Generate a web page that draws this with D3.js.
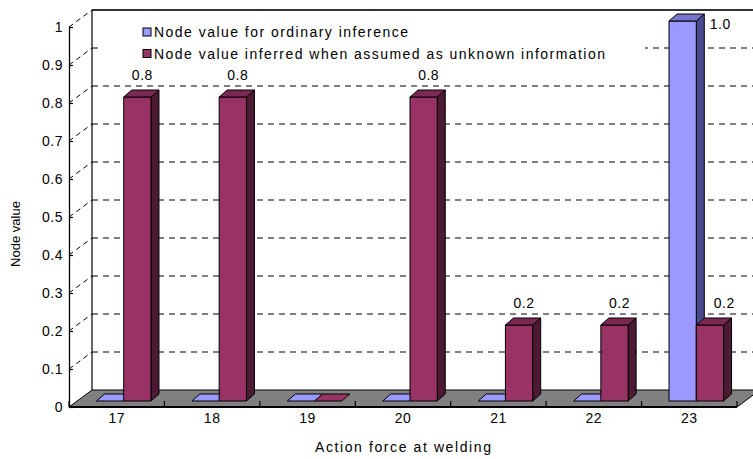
<!DOCTYPE html>
<html>
<head>
<meta charset="utf-8">
<script src="https://cdn.jsdelivr.net/npm/d3@7"></script>
<style>
  html, body { margin: 0; padding: 0; background: #fff; }
  svg { display: block; }
  text { font-family: "Liberation Sans", Arial, sans-serif; fill: #000; }
</style>
</head>
<body>
<svg id="chart" width="753" height="459"></svg>
<script>
// ---- data ----
const categories = ["17", "18", "19", "20", "21", "22", "23"];
const ordinaryValues = [0, 0, 0, 0, 0, 0, 1.0];
const unknownValues = [0.8, 0.8, 0, 0.8, 0.2, 0.2, 0.2];
const seriesNames = [
  "Node value for ordinary inference",
  "Node value inferred when assumed as unknown information"
];
const yTickValues = [0, 0.1, 0.2, 0.3, 0.4, 0.5, 0.6, 0.7, 0.8, 0.9, 1];
const xTitle = "Action force at welding";
const yTitle = "Node value";

// ---- layout ----
const W = 753, H = 459;
const floorL = 69, floorR = 737, yZero = 407, yOne = 27;
const DX = 23, DY = 17;          // depth of the walls / floor
const barOffX = 7, barOffY = 6;  // bars sit a little back on the floor
const barDX = 8, barDY = 7;      // bar depth

const frontColors = ["#9999ff", "#993366"];
const topColors   = ["#7575cc", "#7a2952"];
const sideColors  = ["#4a4a90", "#4c1a33"];

const svg = d3.select("#chart");

const y = d3.scaleLinear().domain([0, 1]).range([yZero, yOne]);
const x0 = d3.scaleBand().domain(categories).range([floorL, floorR]).padding(0);
const x1 = d3.scaleBand().domain([0, 1]).range([0, x0.bandwidth()])
  .paddingInner(0).paddingOuter(0.75);

const series = [ordinaryValues, unknownValues];
const fmt = d3.format(".1f");

// ---- back wall gridlines ----
const back = svg.append("g");
yTickValues.filter(t => t > 0 && t < 1).forEach(t => {
  back.append("line")
    .attr("x1", floorL + DX).attr("x2", floorR + DX)
    .attr("y1", y(t) - DY).attr("y2", y(t) - DY)
    .attr("stroke", "#000").attr("stroke-width", 1.2)
    .attr("stroke-dasharray", "6,5");
});
// top edge of the back wall
back.append("line")
  .attr("x1", floorL + DX).attr("x2", floorR + DX + 10)
  .attr("y1", y(1) - DY).attr("y2", y(1) - DY)
  .attr("stroke", "#333").attr("stroke-width", 2);
// back wall left edge
back.append("line")
  .attr("x1", floorL + DX).attr("x2", floorL + DX)
  .attr("y1", y(1) - DY).attr("y2", y(0) - DY)
  .attr("stroke", "#000").attr("stroke-width", 1.2);

// side wall diagonals
yTickValues.filter(t => t > 0).forEach(t => {
  back.append("line")
    .attr("x1", floorL).attr("y1", y(t))
    .attr("x2", floorL + DX).attr("y2", y(t) - DY)
    .attr("stroke", "#000").attr("stroke-width", 1)
    .attr("stroke-dasharray", "5,4");
});

// ---- legend ----
const legend = svg.append("g");
legend.append("rect")
  .attr("x", 100).attr("y", 21).attr("width", 545).attr("height", 42)
  .attr("fill", "#fff");
const legendLens = [254, 451];
seriesNames.forEach((name, i) => {
  const cy = 32 + i * 21.5;
  legend.append("rect")
    .attr("x", 143).attr("y", cy - 4).attr("width", 8).attr("height", 8)
    .attr("fill", frontColors[i]).attr("stroke", "#000").attr("stroke-width", 1);
  legend.append("text")
    .attr("x", 154).attr("y", cy + 5)
    .attr("font-size", 14)
    .attr("textLength", legendLens[i]).attr("lengthAdjust", "spacing")
    .text(name);
});

// ---- floor ----
svg.append("path")
  .attr("d", d3.line()([
    [floorL, yZero], [floorR, yZero],
    [floorR + DX, yZero - DY], [floorL + DX, yZero - DY]
  ]) + "Z")
  .attr("fill", "#808080").attr("stroke", "#000").attr("stroke-width", 1);
svg.append("line")
  .attr("x1", floorL).attr("x2", floorR)
  .attr("y1", yZero).attr("y2", yZero)
  .attr("stroke", "#000").attr("stroke-width", 1.8);

// category boundary ticks on the front floor edge
d3.range(categories.length + 1).forEach(i => {
  const xx = floorL + i * x0.step();
  svg.append("line")
    .attr("x1", xx).attr("x2", xx)
    .attr("y1", yZero).attr("y2", yZero - 6)
    .attr("stroke", "#000").attr("stroke-width", 1.2);
});

// ---- bars ----
const bars = [];
categories.forEach((c, ci) => {
  series.forEach((vals, si) => {
    const v = vals[ci];
    const bx = x0(c) + x1(si) + barOffX;
    const bw = x1.bandwidth();
    const yb = yZero - barOffY;
    const yt = y(v) - barOffY;
    bars.push({ c, ci, si, v, bx, bw, yb, yt });
  });
});

const gBars = svg.append("g");
bars.forEach(b => {
  const { bx, bw, yb, yt, si } = b;
  const g = gBars.append("g").attr("stroke", "#000").attr("stroke-width", 1)
    .attr("stroke-linejoin", "round");
  if (b.v > 0) {
    g.append("path")
      .attr("d", d3.line()([[bx + bw, yt], [bx + bw + barDX, yt - barDY],
        [bx + bw + barDX, yb - barDY], [bx + bw, yb]]) + "Z")
      .attr("fill", sideColors[si]);
    g.append("rect")
      .attr("x", bx).attr("y", yt).attr("width", bw).attr("height", yb - yt)
      .attr("fill", frontColors[si]);
  }
  g.append("path")
    .attr("d", d3.line()([[bx, yt], [bx + barDX, yt - barDY],
      [bx + bw + barDX, yt - barDY], [bx + bw, yt]]) + "Z")
    .attr("fill", b.v > 0 ? topColors[si] : frontColors[si]);
});

// ---- value labels ----
const plotTop = y(1) - DY;
const halfLabel = 11;
bars.filter(b => b.v > 0).forEach(b => {
  let cx = b.bx + b.bw / 2 + 5;
  let cy = b.yt - barDY - 15;
  if (cy - 7 < plotTop) {
    // no room above: sit beside the bar top
    cx = b.bx + b.bw + barDX + 16;
    cy = b.yt - barDY + 10;
  }
  // keep clear of a taller neighbour on the left
  const left = bars.find(o => o.ci === b.ci && o.si === b.si - 1 && o.v > b.v);
  if (left) {
    const minCx = left.bx + left.bw + barDX + 9 + halfLabel;
    if (cx < minCx) cx = minCx;
  }
  svg.append("text")
    .attr("x", cx).attr("y", cy + 5)
    .attr("text-anchor", "middle")
    .attr("font-size", 14).attr("letter-spacing", 0.5)
    .text(fmt(b.v));
});

// ---- y axis ----
const yAxis = d3.axisLeft(y)
  .tickValues(yTickValues)
  .tickFormat(d => d === 0 || d === 1 ? String(d) : fmt(d))
  .tickSizeInner(-4).tickSizeOuter(0).tickPadding(6);
const gy = svg.append("g").attr("transform", `translate(${floorL},0)`).call(yAxis);
gy.select(".domain").attr("stroke", "#000").attr("stroke-width", 1.3);
gy.selectAll(".tick line").attr("stroke", "#000").attr("stroke-width", 1.2);
gy.selectAll(".tick text")
  .attr("font-size", 14).attr("letter-spacing", 0.5)
  .attr("font-family", "Liberation Sans, Arial, sans-serif").attr("fill", "#000");

// ---- x axis labels ----
const xAxis = d3.axisBottom(x0).tickSize(0).tickPadding(6);
const gx = svg.append("g").attr("transform", `translate(0,${yZero})`).call(xAxis);
gx.select(".domain").remove();
gx.selectAll(".tick text")
  .attr("font-size", 14).attr("letter-spacing", 0.5)
  .attr("font-family", "Liberation Sans, Arial, sans-serif").attr("fill", "#000");

// ---- titles ----
svg.append("text")
  .attr("x", (floorL + floorR) / 2).attr("y", 452)
  .attr("text-anchor", "middle").attr("font-size", 14)
  .attr("textLength", 176).attr("lengthAdjust", "spacing")
  .text(xTitle);
svg.append("text")
  .attr("transform", "translate(20,234) rotate(-90)")
  .attr("text-anchor", "middle").attr("font-size", 13)
  .text(yTitle);
</script>
</body>
</html>
